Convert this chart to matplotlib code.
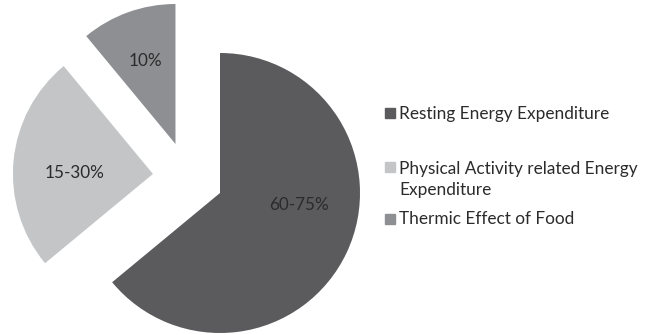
import matplotlib
matplotlib.use("Agg")
import matplotlib.pyplot as plt
from matplotlib.patches import Rectangle

# energy expenditure components
categories = ["Resting Energy Expenditure",
              "Physical Activity related Energy\nExpenditure",
              "Thermic Effect of Food"]
shares = [64, 25, 11]
slice_labels = ["60-75%", "15-30%", "10%"]
colors = ["#5b5b5d", "#c4c5c7", "#8e8f93"]

plt.rcParams['font.family'] = ['Lato', 'DejaVu Sans']
W, H = 647, 335
R = 140.0          # pie radius in pixels
cx, cy = 220, 193  # pie centre (pixels from top-left)

fig = plt.figure(figsize=(W / 100, H / 100), dpi=100)
ax = fig.add_axes([0, 0, 1, 1])

wedges, _ = ax.pie(shares, colors=colors, startangle=90, counterclock=False,
                   radius=1, wedgeprops=dict(linewidth=0))

# exploded slices (offsets as in the original)
shifts = [(0, 0), (-0.479, 0.136), (-0.318, 0.35)]
label_pos = [(0.564, -0.086), (-0.557, 0.007), (-0.214, 0.593)]
for w, (sx, sy), (lx, ly), lab in zip(wedges, shifts, label_pos, slice_labels):
    w.set_center((sx, sy))
    ax.text(sx + lx, sy + ly, lab, ha='center', va='center',
            fontsize=12.3, color='#2b2b2b')

ax.set_xlim(-cx / R, (W - cx) / R)
ax.set_ylim(-(H - cy) / R, cy / R)
ax.set_aspect('equal')
ax.axis('off')

# legend, drawn by hand to keep the uneven spacing
legend_y = [113.5, 167, 219]
line_h = 22
for cat, col, py in zip(categories, colors, legend_y):
    fig.patches.append(Rectangle((385 / W, 1 - (py + 5) / H), 10 / W, 10 / H,
                                 transform=fig.transFigure, color=col))
    # baseline of the last line
    base = py + 5.5 + line_h * cat.count('\n')
    fig.text(399 / W, 1 - base / H, cat, ha='left', va='baseline',
             fontsize=12.4, color='#2b2b2b', linespacing=1.32)

fig.savefig("out.png", dpi=100)
